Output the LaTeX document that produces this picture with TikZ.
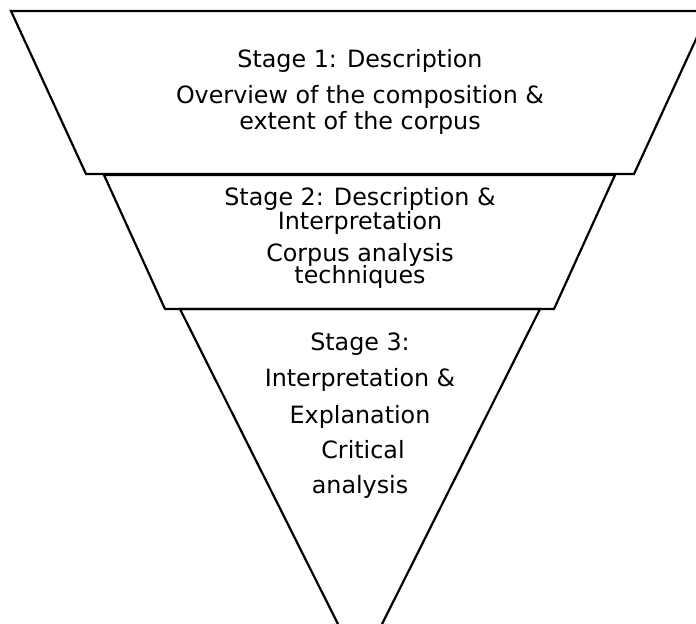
\documentclass[tikz,border=0pt]{standalone}
\usepackage{fontspec}
\setmainfont{DejaVu Sans}
\begin{document}
\begin{tikzpicture}[x=1bp,y=-1bp,
  shape line/.style={draw=black,line width=2.2bp,line join=miter},
  lbl/.style={anchor=base,inner sep=0pt,font=\fontsize{23.8bp}{28bp}\selectfont}]
\useasboundingbox (0,0) rectangle (696,624);
\clip (0,0) rectangle (696,624);
\fill[white] (0,0) rectangle (696,624);
% shapes
\draw[shape line] (11,11) -- (709,11) -- (634,174) -- (86,174) -- cycle;
\draw[shape line] (104,175) -- (615,175) -- (554,309) -- (165,309) -- cycle;
\draw[shape line] (180,309) -- (540,309) -- (360,668) -- cycle;
% texts
\node[lbl] (s1a) at (360,68) {Stage 1: Description};
\node[lbl] (s1b) at (360,104) {Overview of the composition \&};
\node[lbl] (s1c) at (360,130) {extent of the corpus};
\node[lbl] (s2a) at (360,206) {Stage 2: Description \&};
\node[lbl] (s2b) at (360,229) {Interpretation};
\node[lbl] (s2c) at (360,261) {Corpus analysis};
\node[lbl] (s2d) at (360,283) {techniques};
\node[lbl] (s3a) at (360,350) {Stage 3:};
\node[lbl] (s3b) at (360,386) {Interpretation \&};
\node[lbl] (s3c) at (360,423) {Explanation};
\node[lbl] (s3d) at (363,458) {Critical};
\node[lbl] (s3e) at (360,493) {analysis};
\end{tikzpicture}
\end{document}
